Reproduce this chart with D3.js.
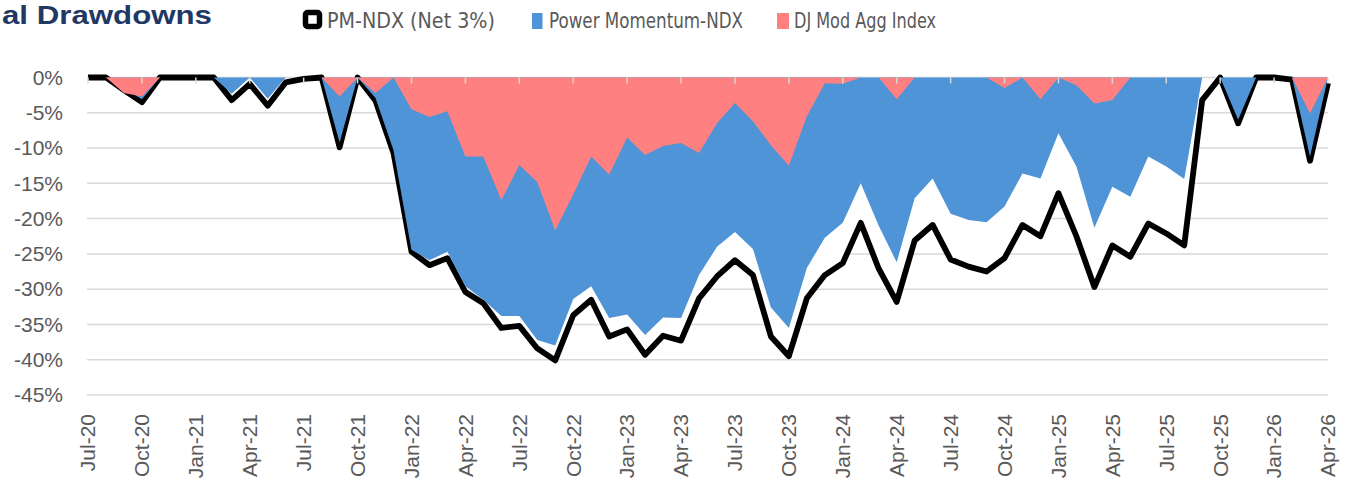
<!DOCTYPE html>
<html>
<head>
<meta charset="utf-8">
<script src="https://cdn.jsdelivr.net/npm/d3@7"></script>
<style>
  html, body { margin: 0; padding: 0; background: #ffffff; }
  svg { display: block; }
</style>
</head>
<body>
<svg id="chart" width="1351" height="485"></svg>
<script>
// ---------------- DATA ----------------
const months = [
  "Jul-20","Aug-20","Sep-20","Oct-20","Nov-20","Dec-20",
  "Jan-21","Feb-21","Mar-21","Apr-21","May-21","Jun-21","Jul-21","Aug-21","Sep-21","Oct-21","Nov-21","Dec-21",
  "Jan-22","Feb-22","Mar-22","Apr-22","May-22","Jun-22","Jul-22","Aug-22","Sep-22","Oct-22","Nov-22","Dec-22",
  "Jan-23","Feb-23","Mar-23","Apr-23","May-23","Jun-23","Jul-23","Aug-23","Sep-23","Oct-23","Nov-23","Dec-23",
  "Jan-24","Feb-24","Mar-24","Apr-24","May-24","Jun-24","Jul-24","Aug-24","Sep-24","Oct-24","Nov-24","Dec-24",
  "Jan-25","Feb-25","Mar-25","Apr-25","May-25","Jun-25","Jul-25","Aug-25","Sep-25","Oct-25","Nov-25","Dec-25",
  "Jan-26","Feb-26","Mar-26","Apr-26"
];

// PM-NDX (Net 3%) drawdown, %
const pmNdx = [
  0, 0, -1.8, -3.5, 0, 0,
  0, 0, -3.2, -0.9, -4.0, -0.7, -0.2, 0, -9.9, 0, -3.3, -10.7,
  -24.7, -26.6, -25.6, -30.4, -32.0, -35.5, -35.2, -38.4, -40.1, -33.7, -31.5, -36.7,
  -35.7, -39.3, -36.6, -37.3, -31.3, -28.2, -25.9, -28.0, -36.7, -39.5, -31.3, -28.0,
  -26.3, -20.6, -27.1, -31.8, -23.1, -20.9, -25.8, -26.8, -27.5, -25.6, -20.9, -22.5,
  -16.4, -22.5, -29.7, -23.8, -25.4, -20.7, -22.1, -23.8, -3.2, 0, -6.5, 0,
  0, -0.3, -11.8, -0.8
];

// Power Momentum-NDX drawdown, %
const powerMomentum = [
  0, 0, -1.5, -3.1, 0, 0,
  0, 0, -2.3, 0, -3.0, 0, 0, 0, -9.2, 0, -2.9, -10.3,
  -24.4, -25.9, -24.7, -29.6, -31.5, -33.8, -33.8, -37.2, -38.0, -31.4, -29.6, -34.1,
  -33.6, -36.5, -34.0, -34.1, -28.0, -24.0, -21.9, -24.3, -32.6, -35.5, -27.0, -22.7,
  -20.6, -15.0, -21.0, -26.2, -17.1, -14.3, -19.3, -20.2, -20.5, -18.3, -13.6, -14.3,
  -7.9, -12.6, -21.3, -15.5, -16.9, -11.2, -12.6, -14.4, 0, 0, -6.0, 0,
  0, 0, -11.2, 0
];

// DJ Mod Agg Index drawdown, %
const djModAgg = [
  0, 0, -2.2, -2.7, 0, 0,
  0, 0, 0, 0, 0, 0, 0, 0, -2.7, 0, -2.2, 0,
  -4.5, -5.6, -4.8, -11.2, -11.2, -17.4, -12.4, -14.8, -21.7, -16.6, -11.2, -13.8,
  -8.5, -11.0, -9.7, -9.3, -10.7, -6.5, -3.6, -6.2, -9.6, -12.5, -5.5, -0.8,
  -0.9, 0, 0, -3.1, 0, 0, 0, 0, 0, -1.5, 0, -3.1,
  0, -1.1, -3.7, -3.2, 0, 0, 0, 0, 0, 0, 0, 0,
  0, 0, -5.1, 0
];

const xTickLabels = [
  "Jul-20","Oct-20","Jan-21","Apr-21","Jul-21","Oct-21","Jan-22","Apr-22","Jul-22","Oct-22",
  "Jan-23","Apr-23","Jul-23","Oct-23","Jan-24","Apr-24","Jul-24","Oct-24","Jan-25","Apr-25",
  "Jul-25","Oct-25","Jan-26","Apr-26"
];
const yTicks = [0, -5, -10, -15, -20, -25, -30, -35, -40, -45];

const seriesNames = ["PM-NDX (Net 3%)", "Power Momentum-NDX", "DJ Mod Agg Index"];
const titleText = "al Drawdowns";

// ---------------- CHART ----------------
const svg = d3.select("#chart");
const x = d3.scalePoint().domain(months).range([88, 1328]);
const y = d3.scaleLinear().domain([-45, 0]).range([395, 77.5]);

const gridColor = "#d9d9d9";
const textColor = "#595959";
const blue = "#4F94D7";
const pink = "#FF8080";

// gridlines
svg.append("g").selectAll("line")
  .data(yTicks.filter(d => d !== 0))
  .join("line")
  .attr("x1", 87).attr("x2", 1328)
  .attr("y1", d => y(d)).attr("y2", d => y(d))
  .attr("stroke", gridColor).attr("stroke-width", 1.5);

// y axis labels
const yAxis = d3.axisLeft(y).tickValues(yTicks).tickFormat(d => d + "%").tickSize(0).tickPadding(3);
const gy = svg.append("g").attr("transform", "translate(66,0)").call(yAxis);
gy.select(".domain").remove();
gy.selectAll("text")
  .attr("fill", textColor)
  .style("font-family", "'Liberation Sans', Arial, sans-serif")
  .style("font-size", "21px");

const idx = months.map((m, i) => i);

// PM-NDX: white area (0 -> value) with black outline on top edge
const areaPM = d3.area().x(i => x(months[i])).y0(y(0)).y1(i => y(pmNdx[i]));
svg.append("path").datum(idx).attr("d", areaPM).attr("fill", "#ffffff");

// x axis baseline (at 0%)
svg.append("line")
  .attr("x1", 87).attr("x2", 1328).attr("y1", y(0)).attr("y2", y(0))
  .attr("stroke", gridColor).attr("stroke-width", 1.5);

const linePM = d3.line().x(i => x(months[i])).y(i => y(pmNdx[i]));
svg.append("path").datum(idx).attr("d", linePM)
  .attr("fill", "none").attr("stroke", "#000000").attr("stroke-width", 5.8)
  .attr("stroke-linejoin", "round").attr("stroke-linecap", "butt");

// Power Momentum-NDX area
const areaPMo = d3.area().x(i => x(months[i])).y0(y(0)).y1(i => y(powerMomentum[i]));
svg.append("path").datum(idx).attr("d", areaPMo).attr("fill", blue);

// DJ Mod Agg area
const areaDJ = d3.area().x(i => x(months[i])).y0(y(0)).y1(i => y(djModAgg[i]));
svg.append("path").datum(idx).attr("d", areaDJ).attr("fill", pink);

// x axis tick marks (quarterly)
svg.append("g").selectAll("line")
  .data(xTickLabels)
  .join("line")
  .attr("x1", d => x(d)).attr("x2", d => x(d))
  .attr("y1", y(0)).attr("y2", y(0) + 6)
  .attr("stroke", gridColor).attr("stroke-width", 1.5);

// x axis labels (rotated)
svg.append("g").selectAll("text")
  .data(xTickLabels)
  .join("text")
  .attr("transform", d => `translate(${x(d)},414) rotate(-90)`)
  .attr("text-anchor", "end")
  .attr("dy", "0.35em")
  .attr("fill", textColor)
  .style("font-family", "'Liberation Sans', Arial, sans-serif")
  .style("font-size", "21px")
  .text(d => d);

// title (cut at left edge in the reference)
svg.append("text")
  .attr("x", 2).attr("y", 24)
  .attr("fill", "#1F3864")
  .attr("textLength", 210).attr("lengthAdjust", "spacingAndGlyphs")
  .style("font-family", "'Liberation Sans', Arial, sans-serif")
  .style("font-weight", "700")
  .style("font-size", "26px")
  .text(titleText);

// legend
const legendFont = "'Liberation Sans Narrow', 'Arial Narrow', 'DejaVu Sans Condensed', 'Liberation Sans', sans-serif";
const legend = svg.append("g");
legend.append("rect")
  .attr("x", 305.5).attr("y", 12.5).attr("width", 14).attr("height", 14)
  .attr("rx", 2).attr("fill", "#ffffff").attr("stroke", "#000000").attr("stroke-width", 5.5);
legend.append("rect")
  .attr("x", 532).attr("y", 13).attr("width", 10.5).attr("height", 16).attr("fill", blue);
legend.append("rect")
  .attr("x", 777).attr("y", 13).attr("width", 12).attr("height", 16).attr("fill", pink);

const legendItems = [
  { name: seriesNames[0], x: 327, w: 168 },
  { name: seriesNames[1], x: 549, w: 194 },
  { name: seriesNames[2], x: 794, w: 142 }
];
legend.selectAll("text.leg")
  .data(legendItems)
  .join("text")
  .attr("class", "leg")
  .attr("x", d => d.x).attr("y", 27.5)
  .attr("textLength", d => d.w).attr("lengthAdjust", "spacingAndGlyphs")
  .attr("fill", textColor)
  .style("font-family", legendFont)
  .style("font-size", "22px")
  .text(d => d.name);
</script>
</body>
</html>
